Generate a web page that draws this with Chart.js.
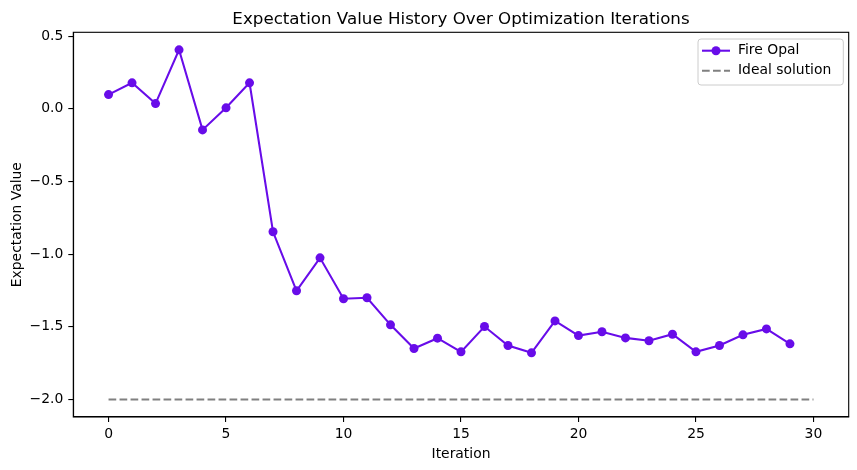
<!DOCTYPE html>
<html>
<head>
<meta charset="utf-8">
<script src="https://cdn.jsdelivr.net/npm/chart.js@4"></script>
<style>
  html, body { margin: 0; padding: 0; background: #fff; }
  #wrap { width: 857px; height: 470px; }
</style>
</head>
<body>
<div id="wrap"><canvas id="myChart" width="857" height="470"></canvas></div>
<script>
"use strict";

const titleText = "Expectation Value History Over Optimization Iterations";
const xTitle = "Iteration";
const yTitle = "Expectation Value";
const seriesName = "Fire Opal";
const idealName = "Ideal solution";

const iterations = [0, 1, 2, 3, 4, 5, 6, 7, 8, 9, 10, 11, 12, 13, 14, 15, 16, 17, 18, 19, 20, 21, 22, 23, 24, 25, 26, 27, 28, 29];
const expValues = [0.098, 0.179, 0.036, 0.406, -0.145, 0.007, 0.179, -0.846, -1.252, -1.025,
  -1.307, -1.300, -1.486, -1.649, -1.578, -1.672, -1.498, -1.628, -1.679, -1.459,
  -1.560, -1.534, -1.576, -1.596, -1.551, -1.672, -1.628, -1.555, -1.514, -1.617];
const idealX = [0, 30];
const idealY = [-2.0, -2.0];

const xTicks = [0, 5, 10, 15, 20, 25, 30];
const yTicks = [-2.0, -1.5, -1.0, -0.5, 0.0, 0.5];

const purple = "#680CE9";
const gray = "#808080";
const fontFam = "'DejaVu Sans', sans-serif";

Chart.defaults.font.family = fontFam;
Chart.defaults.font.size = 13.9;
Chart.defaults.color = "#000";

function minusFmt(v) {
  let s = v.toFixed(1);
  return s.replace("-", "\u2212");
}

// four spines + title + matplotlib-style legend
const mplDecor = {
  id: "mplDecor",
  afterDatasetsDraw(chart) {
    const ctx = chart.ctx;
    const a = chart.chartArea;
    ctx.save();
    ctx.strokeStyle = "#000";
    ctx.lineWidth = 1.1;
    ctx.strokeRect(a.left, a.top, a.right - a.left, a.bottom - a.top);

    // title
    ctx.fillStyle = "#000";
    ctx.font = "16.7px " + fontFam;
    ctx.textAlign = "center";
    ctx.textBaseline = "alphabetic";
    ctx.fillText(titleText, (a.left + a.right) / 2, 24);

    // legend
    const bx = 698, by = 39, bw = 145.3, bh = 46;
    ctx.beginPath();
    ctx.roundRect(bx, by, bw, bh, 3);
    ctx.fillStyle = "rgba(255,255,255,0.8)";
    ctx.fill();
    ctx.strokeStyle = "#cccccc";
    ctx.lineWidth = 1;
    ctx.stroke();

    const ds = chart.data.datasets;
    const rows = [50.7, 70.7];
    for (let i = 0; i < ds.length; i++) {
      let y = rows[i];
      ctx.beginPath();
      ctx.strokeStyle = ds[i].borderColor;
      ctx.lineWidth = 2.08;
      ctx.setLineDash(ds[i].borderDash || []);
      ctx.moveTo(702, y);
      ctx.lineTo(730, y);
      ctx.stroke();
      ctx.setLineDash([]);
      if (ds[i].pointRadius > 0) {
        ctx.beginPath();
        ctx.fillStyle = ds[i].pointBackgroundColor;
        ctx.arc(716, y, 4.5, 0, Math.PI * 2);
        ctx.fill();
      }
      ctx.fillStyle = "#000";
      ctx.font = "13.9px " + fontFam;
      ctx.textAlign = "left";
      ctx.textBaseline = "middle";
      ctx.fillText(ds[i].label, 738, y);
    }
    ctx.restore();
  }
};

const ctx = document.getElementById("myChart").getContext("2d");

const myChart = new Chart(ctx, {
  type: "line",
  data: {
    datasets: [
      {
        label: seriesName,
        data: iterations.map((x, i) => ({ x: x, y: expValues[i] })),
        borderColor: purple,
        backgroundColor: purple,
        pointBackgroundColor: purple,
        pointBorderColor: purple,
        borderWidth: 2.08,
        pointRadius: 4.5,
        pointBorderWidth: 0,
        tension: 0,
      },
      {
        label: idealName,
        data: idealX.map((x, i) => ({ x: x, y: idealY[i] })),
        borderColor: gray,
        borderWidth: 2.08,
        borderDash: [7.7, 3.3],
        pointRadius: 0,
        tension: 0,
      },
    ],
  },
  options: {
    responsive: false,
    animation: false,
    layout: { padding: { left: 0, right: 8.3, top: 32.3, bottom: 0 } },
    plugins: {
      legend: { display: false },
      title: { display: false },
      tooltip: { enabled: false },
    },
    scales: {
      x: {
        type: "linear",
        min: -1.5,
        max: 31.5,
        afterFit(scale) { scale.height = 53; },
        afterBuildTicks(scale) { scale.ticks = xTicks.map(v => ({ value: v })); },
        grid: { drawOnChartArea: false, drawTicks: true, tickLength: 5, color: "#000", lineWidth: 1.1 },
        border: { display: true, color: "#000", width: 1.1 },
        ticks: { padding: 4, maxRotation: 0, autoSkip: false, callback: v => String(v) },
        title: { display: true, text: xTitle, padding: { top: 0, bottom: 7.5 } },
      },
      y: {
        type: "linear",
        min: -2.1203,
        max: 0.5266,
        afterFit(scale) { scale.width = 73.3; },
        afterBuildTicks(scale) { scale.ticks = yTicks.map(v => ({ value: v })); },
        grid: { drawOnChartArea: false, drawTicks: true, tickLength: 5, color: "#000", lineWidth: 1.1 },
        border: { display: true, color: "#000", width: 1.1 },
        ticks: { padding: 5, autoSkip: false, callback: v => minusFmt(v) },
        title: { display: true, text: yTitle, padding: { top: 9, bottom: 0 } },
      },
    },
  },
  plugins: [mplDecor],
});
</script>
</body>
</html>
